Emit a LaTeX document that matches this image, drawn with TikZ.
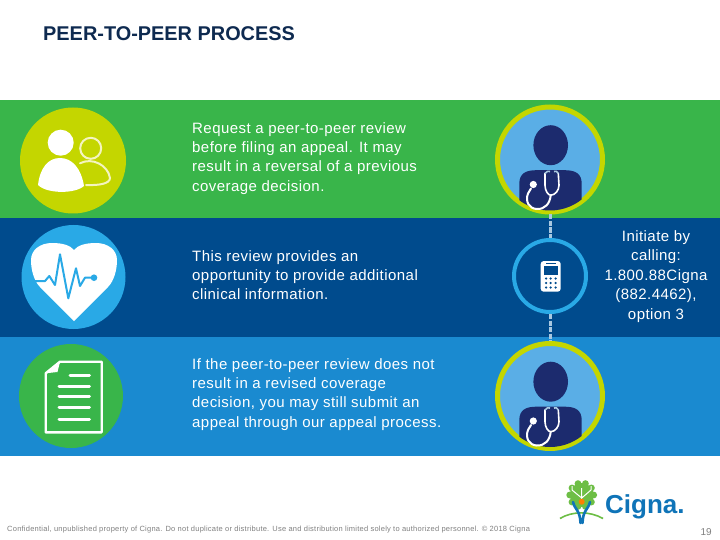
\documentclass[tikz,border=0pt]{standalone}
\usepackage{fontspec}
\setmainfont{Liberation Sans}
\newfontfamily\bodyfont[LetterSpace=3]{Liberation Sans}
\newfontfamily\smallfont[LetterSpace=3.2]{Liberation Sans}
\definecolor{bandgreen}{HTML}{39B54A}
\definecolor{banddark}{HTML}{004B8D}
\definecolor{bandblue}{HTML}{1A8AD0}
\definecolor{limering}{HTML}{C4D600}
\definecolor{skyring}{HTML}{29A9E6}
\definecolor{docback}{HTML}{5AAEE6}
\definecolor{navy}{HTML}{1C2B6E}
\definecolor{cream}{HTML}{F4F4C0}
\definecolor{dashblue}{HTML}{A9C8E0}
\definecolor{titlecol}{HTML}{0E2A50}
\definecolor{logoblue}{HTML}{0F74B8}
\definecolor{logogreen}{HTML}{6DBE45}
\tikzset{>=stealth,
  x=1pt,y=-1pt,
  disc/.style = {circle,fill=#1,minimum size=106pt,inner sep=0pt},
  docring/.style = {circle,fill=docback,draw=limering,line width=5pt,minimum size=105pt,inner sep=0pt},
  phonering/.style = {circle,draw=skyring,line width=4pt,minimum size=72pt,inner sep=0pt},
  bodytext/.style = {anchor=north west,align=left,text=white,inner sep=0pt,
    font=\fontsize{15}{19.4}\selectfont\bodyfont},
  linkdash/.style = {dashblue,line width=3pt,dash pattern=on 5pt off 1.5pt},
  iconline/.style = {white,line width=3pt,line cap=round},
  doctor/.pic = {
    \fill[navy] (0.7,-14.3) ellipse (17.3 and 20);
    \begin{scope}
      \clip (0,0) circle (51);
      \fill[navy] (-30.7,60) -- (-30.7,24) .. controls (-30.7,14) and (-24,10.7) .. (-14,10.7)
        -- (15,10.7) .. controls (25,10.7) and (31.7,14) .. (31.7,24) -- (31.7,60) -- cycle;
    \end{scope}
    \draw[white,line width=1.6pt,line cap=round] (-5,14) -- (-5,25.7) .. controls (-5,31) and (-2,35.7) .. (0.7,35.7)
      .. controls (5,35.7) and (9,31) .. (9,25.7) -- (8.3,14);
    \draw[dashblue,line width=1.6pt] (-5,14) .. controls (-4,11.5) and (-1,11.5) .. (0,12);
    \draw[dashblue,line width=1.6pt] (8.3,14) .. controls (8,11.5) and (5,11.5) .. (4,12);
    \draw[white,line width=2pt,line cap=round] (0.7,35.7) .. controls (0,44) and (-5,50) .. (-13.3,49.5)
      .. controls (-21,49) and (-25,42) .. (-22,34) -- (-19,29);
    \fill[white] (-16.7,25) circle (3.6);
  }
}
\begin{document}
\begin{tikzpicture}
  \useasboundingbox (0,0) rectangle (720,540);
  \fill[white] (0,0) rectangle (720,540);
  % bands
  \fill[bandgreen] (0,100) rectangle (720,218);
  \fill[banddark] (0,218) rectangle (720,337);
  \fill[bandblue] (0,337) rectangle (720,456);

  \node[anchor=west,inner sep=0pt,text=titlecol,font=\fontsize{19.9}{22}\selectfont\bfseries] (title) at (43,33.5) {PEER-TO-PEER PROCESS};

  % left icons
  \node[disc=limering] (people) at (73,160.5) {};
  \node[disc=skyring,minimum size=104pt] (heart) at (73.5,277) {};
  \node[disc=bandgreen,minimum size=104pt] (paper) at (71,396) {};

  \fill[white] (60.7,142.7) circle (13);
  \fill[white] (38,185) .. controls (40,168) and (48,158) .. (60,158)
    .. controls (72,158) and (81,168) .. (84,186) .. controls (75,194) and (47,194) .. (38,185) -- cycle;
  \draw[cream,line width=2pt] (90.7,148.3) circle (10.5);
  \draw[cream,line width=2pt,line cap=round] (80,163.3) .. controls (92,157) and (108,165) .. (110,178)
    .. controls (110,184) and (98,185.5) .. (86,185);

  \fill[white] (74,321) -- (40,287) .. controls (34,281) and (31,270) .. (31,260)
    .. controls (31,250) and (40,243) .. (52,243) .. controls (62,243) and (70,245) .. (74,250)
    .. controls (78,245) and (86,243) .. (96,243) .. controls (108,243) and (117,250) .. (117,260)
    .. controls (117,270) and (114,281) .. (108,287) -- cycle;
  \draw[skyring,line width=2pt,line join=round] (35,281) -- (45,281) -- (49.3,276) -- (55,285) -- (60,254.3)
    -- (68.3,298.3) -- (76,268.3) -- (80,286) -- (85,277.7) -- (94,277.7);
  \fill[skyring] (94,277.7) circle (3.3);

  \draw[white,line width=2.4pt,line join=round] (60,361.7) -- (101.7,361.7) -- (101.7,432.3) -- (45.7,432.3)
    -- (45.7,373.3) -- cycle;
  \fill[white] (60,361.7) -- (57.5,372) -- (45.7,373.3) -- cycle;
  \draw[iconline] (70,375) -- (89.5,375);
  \foreach \y in {386,396,407.3,419}
    \draw[iconline] (59,\y) -- (89.5,\y);

  % right column
  \node[docring] (doca) at (550,159.5) {};
  \node[phonering] (phone) at (550,276) {};
  \node[docring] (docb) at (550,396) {};
  \draw[linkdash] (doca) -- (phone);
  \draw[linkdash] (phone) -- (docb);
  \pic at (doca) {doctor};
  \pic at (docb) {doctor};

  % phone handset
  \fill[white,rounded corners=3pt] (540.7,261) rectangle (560.7,291.7);
  \fill[banddark] (543.5,265.5) rectangle (558,274.5);
  \draw[banddark,line width=0.7pt] (546,263.2) -- (555.5,263.2);
  \foreach \y in {278.5,283,287.5}
    \foreach \x in {546,550.7,555.5}
      \fill[banddark] (\x,\y) circle (1.25);

  % texts
  \node[bodytext] (texta) at (192,122) {Request a peer-to-peer review\\before filing an appeal. It may\\result in a reversal of a previous\\coverage decision.};
  \node[bodytext] (textb) at (192,250) {This review provides an\\opportunity to provide additional\\clinical information.};
  \node[bodytext] (textc) at (192,358) {If the peer-to-peer review does not\\result in a revised coverage\\decision, you may still submit an\\appeal through our appeal process.};
  \node[bodytext,anchor=north,align=center] (textd) at (656,230.5) {Initiate by\\calling:\\1.800.88Cigna\\(882.4462),\\option 3};

  % logo
  \fill[logogreen] (581.7,495) circle (12);
  \foreach \a in {0,36,...,324}
    \fill[logogreen] (581.7,495) ++(\a:12) circle (3.4);
  \draw[white,line width=1pt] (581.7,503) -- (581.7,488) (581.7,498) -- (572,490) (581.7,498) -- (591,490)
    (572,490) -- (572,486) (591,490) -- (591,486);
  \draw[logogreen,line width=1.6pt] (560,518.5) .. controls (572,511) and (590,511) .. (603,518.5);
  \fill[orange] (581.7,501.7) circle (3);
  \draw[logoblue,line width=2.6pt,line cap=round] (573,502) .. controls (575,510) and (580,510) .. (580.5,523)
    (590,502) .. controls (588,510) and (583,510) .. (582.5,523);
  \node[anchor=west,inner sep=0pt,text=logoblue,font=\fontsize{26}{30}\selectfont\bfseries] (logotext) at (605,506.5) {Cigna.};

  % footer
  \node[anchor=west,inner sep=0pt,text=gray,font=\fontsize{7.5}{9}\selectfont\smallfont] (footer) at (7,529.5) {Confidential, unpublished property of Cigna. Do not duplicate or distribute. Use and distribution limited solely to authorized personnel. \textcopyright{} 2018 Cigna};
  \node[anchor=east,inner sep=0pt,text=gray,font=\fontsize{10}{12}\selectfont] (pageno) at (712,532) {19};
\end{tikzpicture}
\end{document}
